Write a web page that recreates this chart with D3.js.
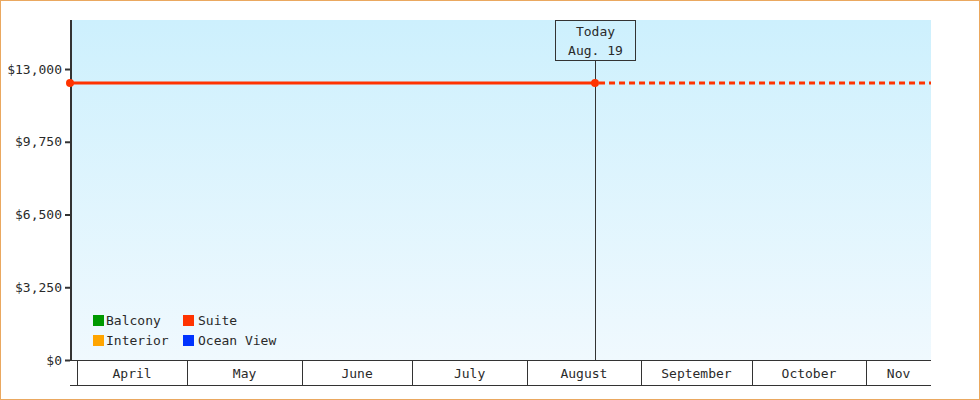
<!DOCTYPE html>
<html>
<head>
  <meta charset="utf-8">
  <title>Cabin price history</title>
  <script src="https://d3js.org/d3.v7.min.js"></script>
  <style>
    body { margin: 0; background: #fff; }
    text { font-family: "DejaVu Sans Mono", monospace; font-size: 13px; fill: #2a2a2a; }
  </style>
</head>
<body>
  <svg id="chart"></svg>
  <script>
    // price points (only Suite has data)
    var seriesNames = ["Balcony", "Interior", "Suite", "Ocean View"];
    var seriesColors = ["#009900", "#ffa500", "#ff3300", "#0033ff"];
    var suiteDates = ["2024-03-30T04:00Z", "2024-08-19T12:00Z"];
    var suiteValues = [12380, 12380];
    var projectEnd = "2024-11-18T14:00Z";
    var todayDate = "2024-08-19T12:00Z";
    var todayLabel = ["Today", "Aug. 19"];
    var yTicks = [0, 3250, 6500, 9750, 13000];
    var yMax = 15190;
    var monthNames = ["April", "May", "June", "July", "August", "September", "October", "Nov"];

    var W = 980, H = 400;
    var plotLeft = 70, plotRight = 931, plotTop = 20, plotBottom = 360, axisBottom = 385;

    var svg = d3.select("#chart").attr("width", W).attr("height", H);

    // outer border
    svg.append("rect")
      .attr("x", 0.5).attr("y", 0.5).attr("width", W - 1).attr("height", H - 1)
      .attr("fill", "#fff").attr("stroke", "#eaa860");

    var defs = svg.append("defs");
    var grad = defs.append("linearGradient").attr("id", "bg")
      .attr("x1", 0).attr("y1", 0).attr("x2", 0).attr("y2", 1);
    grad.append("stop").attr("offset", "0%").attr("stop-color", "#cdf0fd");
    grad.append("stop").attr("offset", "100%").attr("stop-color", "#f0f9fe");

    var parse = d3.isoParse;
    var x = d3.scaleUtc()
      .domain([parse(suiteDates[0]), parse(projectEnd)])
      .range([plotLeft, plotRight]);
    var y = d3.scaleLinear().domain([0, yMax]).range([plotBottom, plotTop]);

    // plot background
    svg.append("rect")
      .attr("x", plotLeft).attr("y", plotTop)
      .attr("width", plotRight - plotLeft).attr("height", plotBottom - plotTop)
      .attr("fill", "url(#bg)");

    // y axis
    var yAxis = svg.append("g")
      .attr("transform", "translate(" + plotLeft + ",0)")
      .call(d3.axisLeft(y).tickValues(yTicks).tickSize(5).tickPadding(3)
        .tickFormat(function(d) { return "$" + d3.format(",")(d); }));
    yAxis.select(".domain").remove();
    yAxis.selectAll(".tick line").attr("stroke", "#333").attr("stroke-width", 2);
    yAxis.selectAll(".tick text")
      .style("font-family", "'DejaVu Sans Mono', monospace").style("font-size", "13px")
      .attr("fill", "#2a2a2a");
    svg.append("line")
      .attr("x1", plotLeft + 1).attr("x2", plotLeft + 1).attr("y1", plotTop).attr("y2", plotBottom)
      .attr("stroke", "#333").attr("stroke-width", 2);

    // month timeline under the plot
    var months = d3.utcMonth.range(d3.utcMonth.floor(x.domain()[0]), x.domain()[1]);
    var tl = svg.append("g");
    tl.append("line").attr("x1", plotLeft).attr("x2", plotRight)
      .attr("y1", plotBottom + 0.5).attr("y2", plotBottom + 0.5).attr("stroke", "#333");
    tl.append("line").attr("x1", plotLeft).attr("x2", plotRight)
      .attr("y1", axisBottom + 0.5).attr("y2", axisBottom + 0.5).attr("stroke", "#333");
    var mi = 0;
    months.forEach(function(m) {
      if (m < x.domain()[0]) return;
      var end = d3.utcMonth.offset(m, 1);
      var x0 = x(m), x1 = Math.min(x(end), plotRight);
      tl.append("line")
        .attr("x1", Math.round(x0) + 0.5).attr("x2", Math.round(x0) + 0.5)
        .attr("y1", plotBottom).attr("y2", axisBottom)
        .attr("stroke", "#333");
      tl.append("text")
        .attr("x", (x0 + x1) / 2).attr("y", 378)
        .attr("text-anchor", "middle")
        .text(monthNames[mi++]);
    });

    // today marker
    var tx = Math.round(x(parse(todayDate))) + 0.5;
    svg.append("line")
      .attr("x1", tx).attr("x2", tx).attr("y1", 60).attr("y2", plotBottom)
      .attr("stroke", "#333");
    svg.append("rect")
      .attr("x", tx - 40).attr("y", plotTop + 0.5).attr("width", 80).attr("height", 40)
      .attr("fill", "none").attr("stroke", "#333");
    svg.append("text").attr("x", tx).attr("y", 36).attr("text-anchor", "middle").text(todayLabel[0]);
    svg.append("text").attr("x", tx).attr("y", 55).attr("text-anchor", "middle").text(todayLabel[1]);

    // suite line (history solid, projection dashed)
    var pts = suiteDates.map(function(d, i) { return { date: parse(d), value: suiteValues[i] }; });
    var line = d3.line().x(function(d) { return x(d.date); }).y(function(d) { return y(d.value); });
    svg.append("path").datum(pts)
      .attr("d", line).attr("fill", "none")
      .attr("stroke", seriesColors[2]).attr("stroke-width", 3);
    var last = pts[pts.length - 1];
    svg.append("path").datum([last, { date: parse(projectEnd), value: last.value }])
      .attr("d", line).attr("fill", "none")
      .attr("stroke", seriesColors[2]).attr("stroke-width", 3)
      .attr("stroke-dasharray", "6,4").attr("stroke-dashoffset", -4);
    svg.selectAll(".pt").data(pts).enter().append("circle")
      .attr("cx", function(d) { return x(d.date); })
      .attr("cy", function(d) { return y(d.value); })
      .attr("r", 4).attr("fill", seriesColors[2]);

    // legend
    var lg = svg.append("g");
    seriesNames.forEach(function(name, i) {
      var col = Math.floor(i / 2), row = i % 2;
      var gx = 93 + col * 90, gy = 315 + row * 20;
      lg.append("rect").attr("x", gx).attr("y", gy).attr("width", 11).attr("height", 11)
        .attr("fill", seriesColors[i]);
      lg.append("text").attr("x", gx + 13 + col * 2).attr("y", gy + 10).text(name);
    });
  </script>
</body>
</html>
